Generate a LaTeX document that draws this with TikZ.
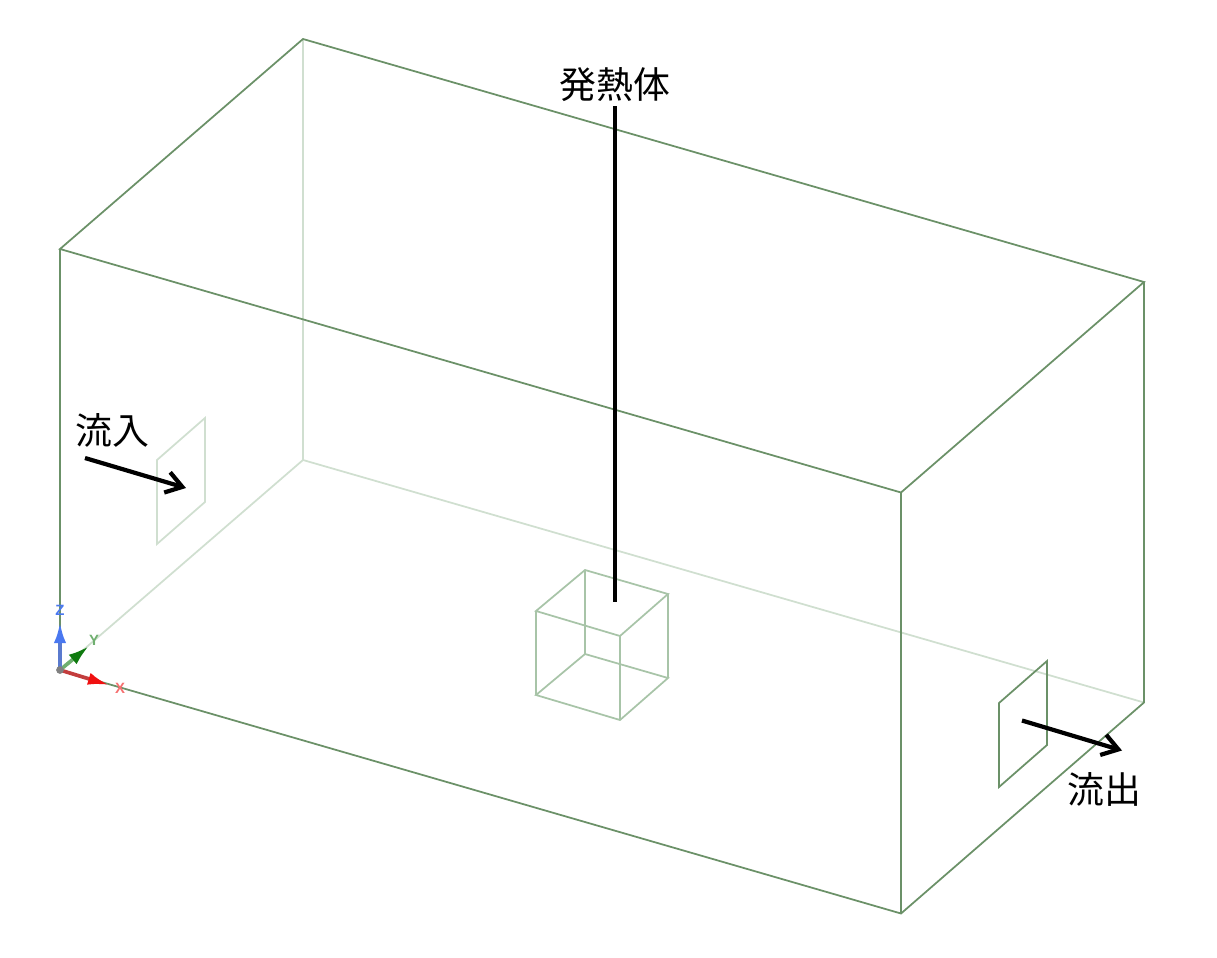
\documentclass[tikz,border=0pt]{standalone}
\usepackage{fontspec}
\setmainfont{Noto Sans CJK JP}
\setsansfont{Liberation Sans}
\usetikzlibrary{arrows.meta}
\usetikzlibrary{calc}
\definecolor{box_green}{HTML}{6B9168}
\definecolor{faint_green}{HTML}{D0DFD0}
\definecolor{cube_green}{HTML}{A8C4A8}
\definecolor{axis_x}{HTML}{F01010}
\definecolor{axis_y}{HTML}{0F7A0F}
\definecolor{axis_z}{HTML}{4A78F0}

\begin{document}
\begin{tikzpicture}[x=0.02cm, y=-0.02cm,
        label_style/.style={inner sep=0pt,font=\fontsize{21}{25}\selectfont},
        axis_label_style/.style={inner sep=0pt,font=\sffamily\bfseries\fontsize{8.5}{10}\selectfont},
        box_edge_style/.style={draw=box_green, line width=1pt},
        hidden_edge_style/.style={draw=faint_green, line width=1pt},
        cube_edge_style/.style={draw=cube_green, line width=1pt},
        leader_style/.style={draw=black, line width=2.3pt},
        flow_style/.style={draw=black, line width=2.4pt,-{Straight Barb[length=9pt,width=12pt,line width=2.4pt]}},
        axis_style/.style={line width=2.1pt,-{Latex[length=12pt,width=7pt,color=#1]}}]
        \useasboundingbox (0,0) rectangle (1217,957);

        % box corners
        \coordinate (b1) at (60,670);
        \coordinate (b2) at (901,913.5);
        \coordinate (b3) at (1144,702.5);
        \coordinate (b4) at (303,460);
        \coordinate (t1) at (60,249);
        \coordinate (t2) at (901,492.5);
        \coordinate (t3) at (1144,282);
        \coordinate (t4) at (303,39);

        % inlet and outlet
        \coordinate (i1) at (157,460);
        \coordinate (i2) at (205,418);
        \coordinate (i3) at (205,502);
        \coordinate (i4) at (157,544);
        \coordinate (o1) at (999,703);
        \coordinate (o2) at (1047,661);
        \coordinate (o3) at (1047,745);
        \coordinate (o4) at (999,787);

        % heat source
        \coordinate (c1) at (536,611);
        \coordinate (c2) at (585,570);
        \coordinate (c3) at (668,594);
        \coordinate (c4) at (620,636);
        \coordinate (c5) at (536,695);
        \coordinate (c6) at (585,654);
        \coordinate (c7) at (668,678);
        \coordinate (c8) at (620,720);

        \draw [hidden_edge_style] (b1) -- (b4);
        \draw [hidden_edge_style] (b4) -- (b3);
        \draw [hidden_edge_style] (b4) -- (t4);
        \draw [hidden_edge_style] (i1) -- (i2) -- (i3) -- (i4) -- cycle;

        \draw [box_edge_style] (t1) -- (t2) -- (t3) -- (t4) -- cycle;
        \draw [box_edge_style] (b1) -- (b2) -- (b3);
        \draw [box_edge_style] (b1) -- (t1);
        \draw [box_edge_style] (b2) -- (t2);
        \draw [box_edge_style] (b3) -- (t3);
        \draw [box_edge_style] (o1) -- (o2) -- (o3) -- (o4) -- cycle;

        \draw [cube_edge_style] (c1) -- (c2) -- (c3) -- (c4) -- cycle;
        \draw [cube_edge_style] (c5) -- (c6) -- (c7) -- (c8) -- cycle;
        \draw [cube_edge_style] (c1) -- (c5);
        \draw [cube_edge_style] (c2) -- (c6);
        \draw [cube_edge_style] (c3) -- (c7);
        \draw [cube_edge_style] (c4) -- (c8);

        % axes
        \coordinate (x_tip) at (109,685);
        \coordinate (y_tip) at (89,646);
        \coordinate (z_tip) at (60,622);
        \draw [axis_style=axis_x,draw=axis_x!60!gray] (b1) -- (x_tip);
        \draw [axis_style=axis_y,draw=axis_y!60!white] (b1) -- (y_tip);
        \draw [axis_style=axis_z,draw=axis_z!70!gray] (b1) -- (z_tip);
        \fill [gray] (b1) circle (2.2pt);
        \node [axis_label_style,text=axis_x!60!white](x_label) at (120,688) {X};
        \node [axis_label_style,text=axis_y!60!white](y_label) at (94,640) {Y};
        \node [axis_label_style,text=axis_z](z_label) at (60,610) {Z};

        % labels
        \node [label_style](n_heat) at (615,85) {発熱体};
        \node [label_style](n_in) at (112,430) {流入};
        \node [label_style](n_out) at (1104,789) {流出};
        \coordinate (heat_end) at (615,602);
        \coordinate (heat_start) at (615,106);
        \coordinate (in_start) at (85,458);
        \coordinate (in_end) at (186,488);
        \coordinate (out_start) at (1022,720.5);
        \coordinate (out_end) at (1122,750.5);
        \draw [leader_style] (heat_start) -- (heat_end);
        \draw [flow_style] (in_start) -- (in_end);
        \draw [flow_style] (out_start) -- (out_end);
\end{tikzpicture}
\end{document}
